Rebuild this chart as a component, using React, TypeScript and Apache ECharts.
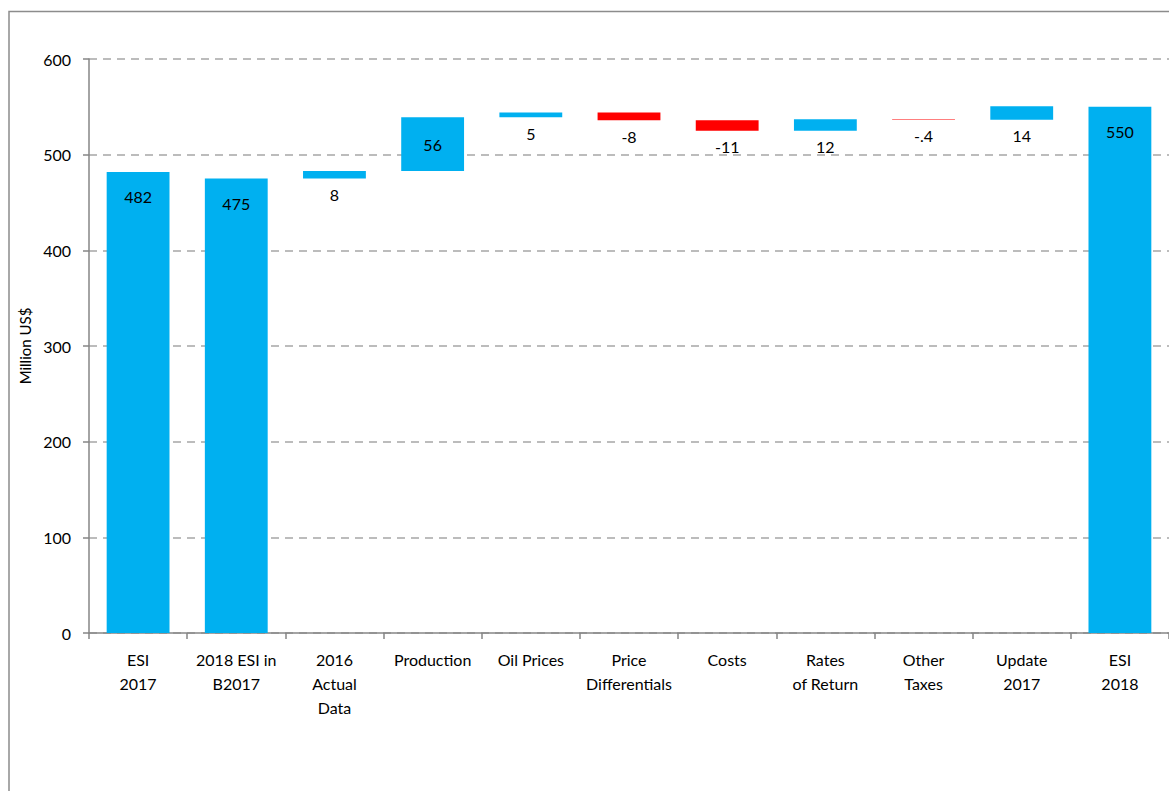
import React, { useEffect, useRef } from "react";
import * as echarts from "echarts";

const categories = [
  "ESI\n2017",
  "2018 ESI in\nB2017",
  "2016\nActual\nData",
  "Production",
  "Oil Prices",
  "Price\nDifferentials",
  "Costs",
  "Rates\nof Return",
  "Other\nTaxes",
  "Update\n2017",
  "ESI\n2018",
];
const values = [482, 475, 8, 56, 5, -8, -11, 12, -0.4, 14, 550];
const valueLabels = ["482", "475", "8", "56", "5", "-8", "-11", "12", "-.4", "14", "550"];
const isTotal = [true, true, false, false, false, false, false, false, false, false, true];
const yTicks = [0, 100, 200, 300, 400, 500, 600];

const BLUE = "#00B0F0";
const RED = "#FF0000";
const FONT = "Lato";

export default function App() {
  const ref = useRef<HTMLDivElement>(null);
  useEffect(() => {
    if (!ref.current) return;
    const chart = echarts.init(ref.current, undefined, { renderer: "svg" });

    const base: number[] = [];
    const vis: any[] = [];
    let running = 0;
    values.forEach((v, i) => {
      if (isTotal[i]) {
        base.push(0);
        running = v;
        vis.push({
          value: v,
          itemStyle: { color: BLUE },
          label: { show: true, position: "insideTop", distance: 17, formatter: valueLabels[i] },
        });
      } else {
        const start = running;
        const end = running + v;
        running = end;
        base.push(Math.min(start, end));
        const big = Math.abs(v) > 30;
        vis.push({
          value: Math.abs(v),
          itemStyle: { color: v >= 0 ? BLUE : RED },
          label: big
            ? { show: true, position: "inside", formatter: valueLabels[i] }
            : { show: true, position: "bottom", distance: 8, formatter: valueLabels[i] },
        });
      }
    });

    chart.setOption({
      animation: false,
      backgroundColor: "#ffffff",
      textStyle: { fontFamily: FONT },
      grid: { left: 89, top: 59, right: 0, bottom: 158, containLabel: false },
      graphic: [
        {
          type: "polyline",
          shape: { points: [[9, 800], [9, 11.5], [1175, 11.5]] },
          style: { stroke: "#8c8c8c", lineWidth: 1.5, fill: "none" },
          silent: true,
        },
      ],
      xAxis: {
        type: "category",
        data: categories,
        boundaryGap: true,
        axisLine: { lineStyle: { color: "#868686", width: 1.5 } },
        axisTick: { show: true, alignWithLabel: false, length: 6, lineStyle: { color: "#868686", width: 1.5 } },
        axisLabel: {
          interval: 0,
          color: "#000",
          fontSize: 16,
          lineHeight: 24,
          margin: 14,
          fontFamily: FONT,
        },
      },
      yAxis: {
        type: "value",
        min: yTicks[0],
        max: yTicks[yTicks.length - 1],
        interval: 100,
        name: "Million US$",
        nameLocation: "middle",
        nameGap: 54,
        nameTextStyle: { color: "#000", fontSize: 15, fontFamily: FONT },
        axisLine: { show: true, lineStyle: { color: "#868686", width: 1.5 } },
        axisTick: { show: true, length: 6, lineStyle: { color: "#868686", width: 1.5 } },
        axisLabel: { color: "#000", fontSize: 16, margin: 18, fontFamily: FONT },
        splitLine: { show: true, lineStyle: { color: "#a6a6a6", type: [8, 6], width: 1.5 } },
      },
      series: [
        {
          type: "bar",
          stack: "wf",
          data: base,
          itemStyle: { color: "transparent" },
          barWidth: "64%",
          silent: true,
        },
        {
          type: "bar",
          stack: "wf",
          data: vis,
          barWidth: "64%",
          label: { color: "#000", fontSize: 16, fontFamily: FONT },
        },
      ],
    });
    return () => chart.dispose();
  }, []);
  return (
    <div
      ref={ref}
      style={{ position: "fixed", left: 0, top: 0, width: 1169, height: 791 }}
    />
  );
}
